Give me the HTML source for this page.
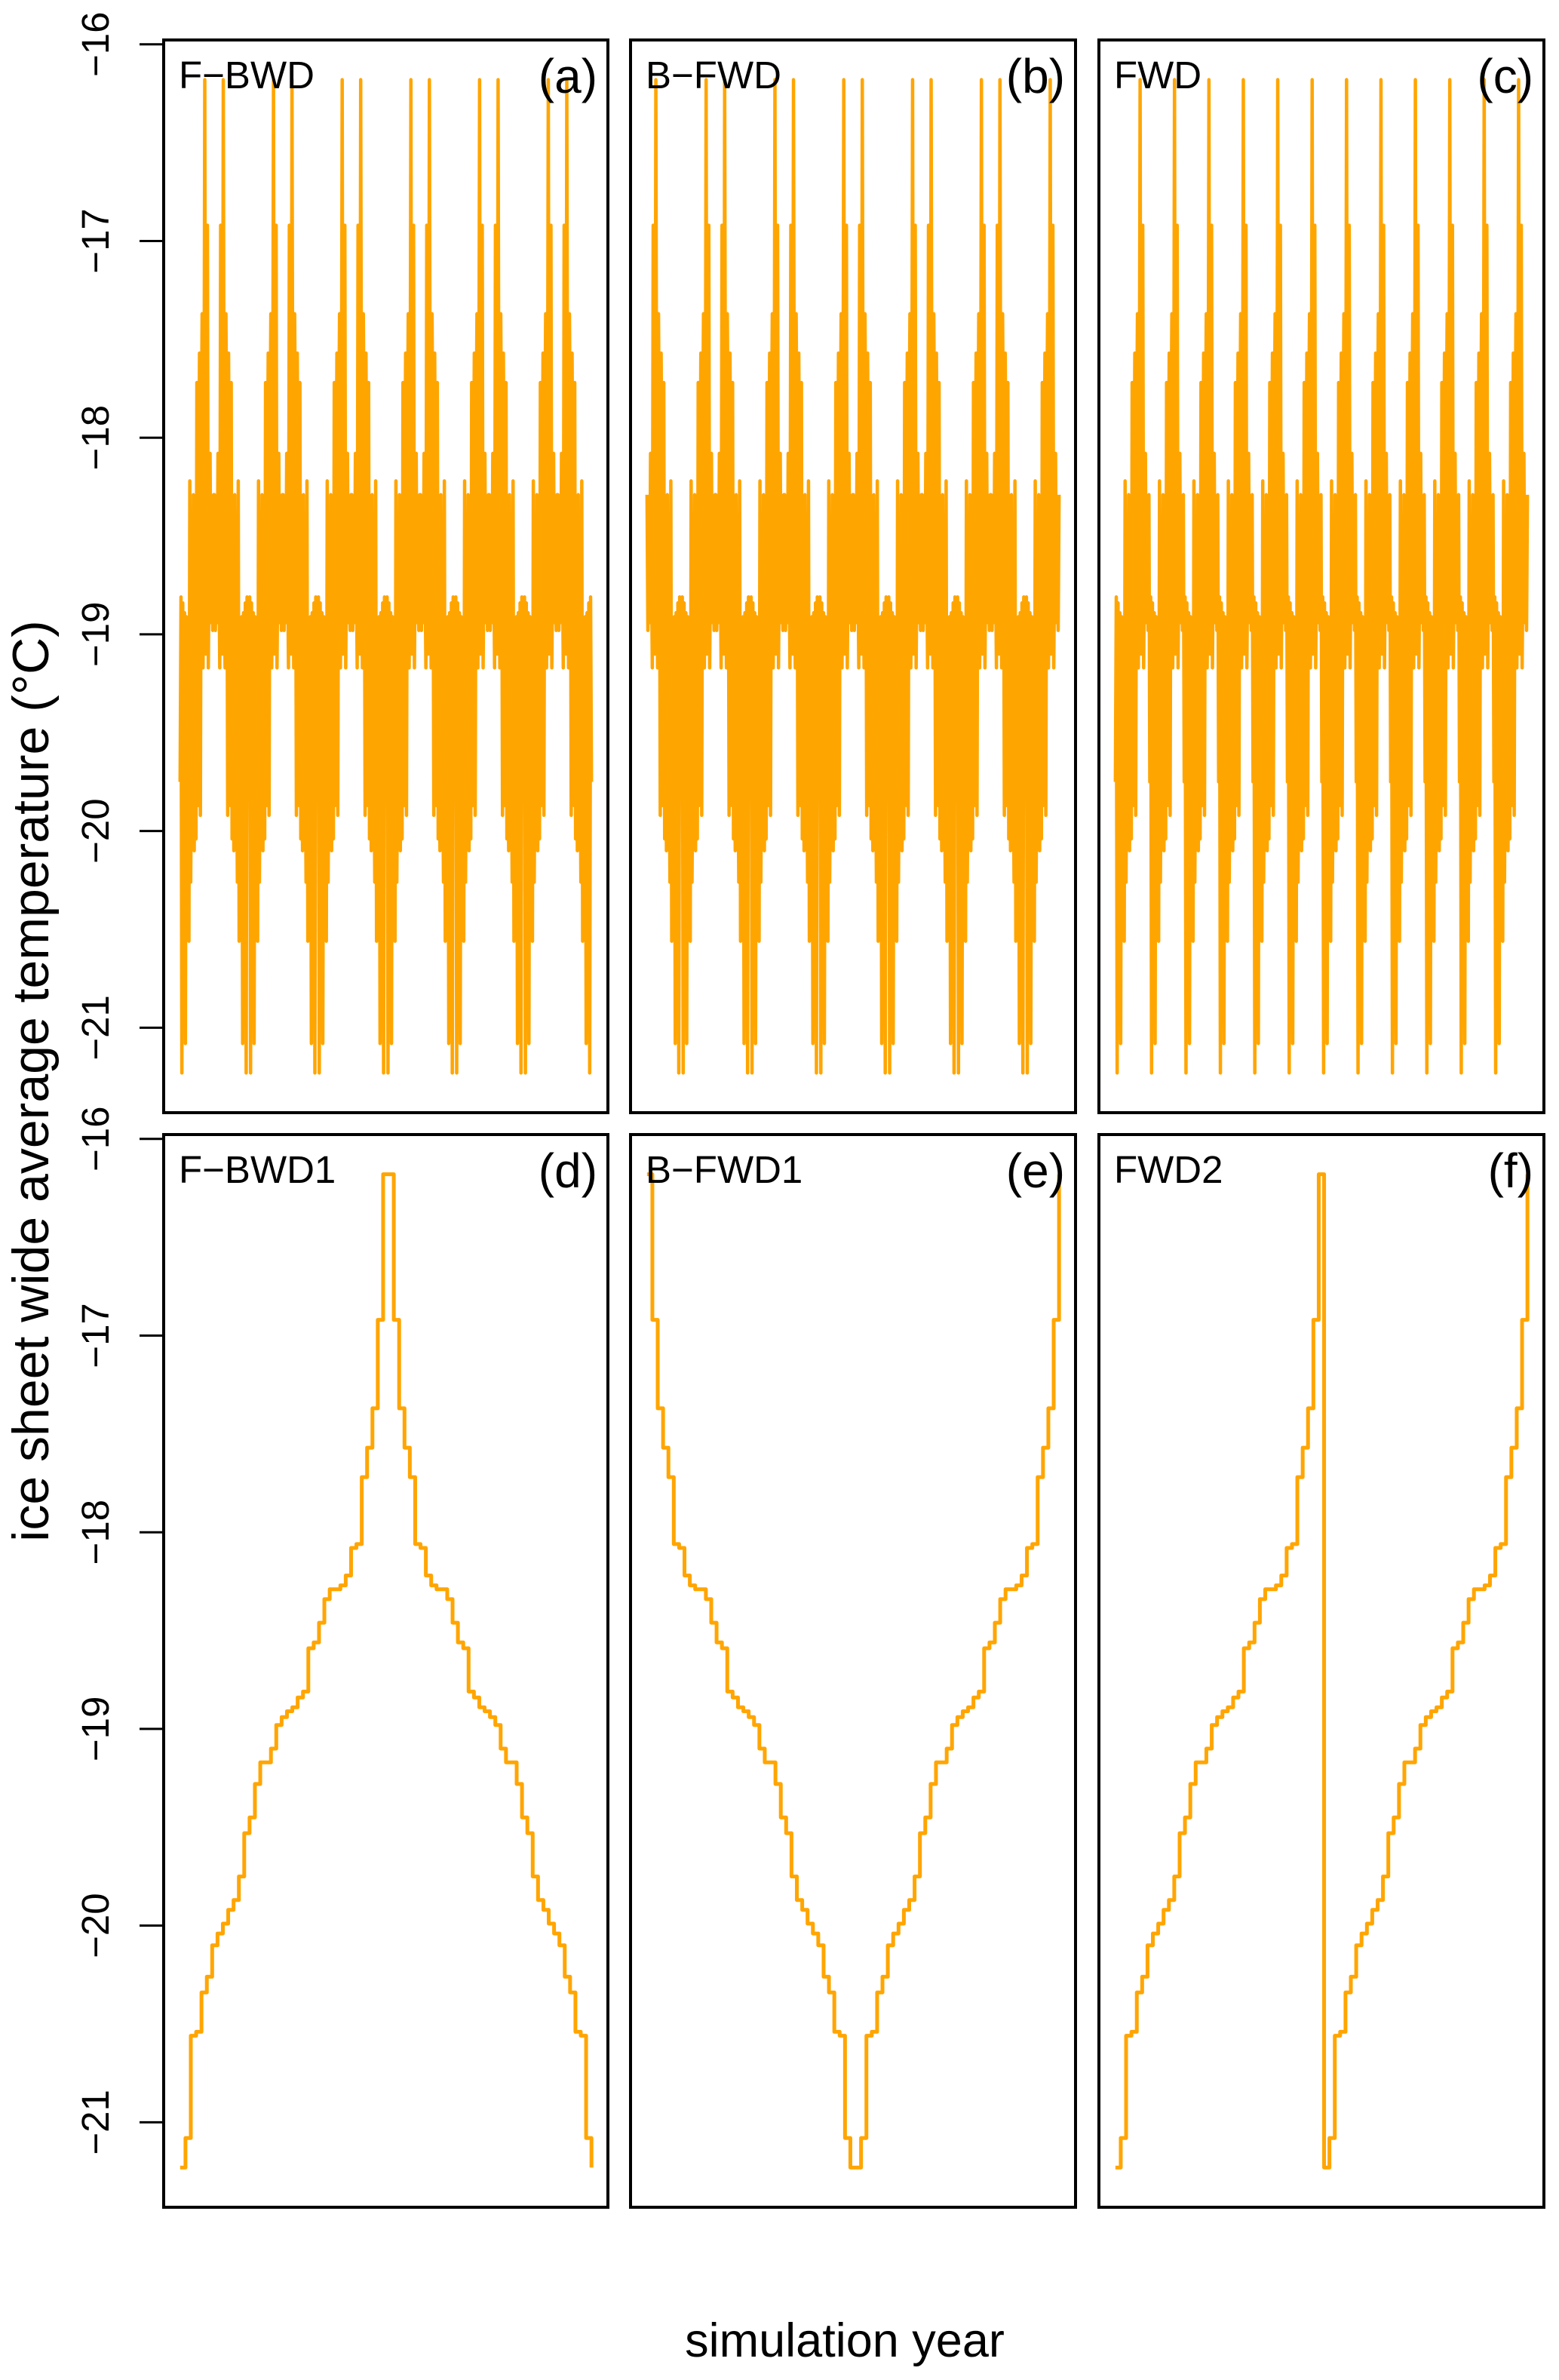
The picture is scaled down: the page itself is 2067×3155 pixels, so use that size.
<!DOCTYPE html>
<html><head><meta charset="utf-8"><style>
html,body{margin:0;padding:0;background:#fff;}
svg{display:block;font-family:"Liberation Sans",Arial,sans-serif;}
</style></head><body>
<svg id="chart" width="2067" height="3155" viewBox="0 0 2067 3155" xmlns="http://www.w3.org/2000/svg">
<rect width="2067" height="3155" fill="#fff"/>
<text x="0" y="0" transform="translate(64,1433) rotate(-90)" font-size="68" text-anchor="middle">ice sheet wide average temperature (°C)</text>
<text x="1120" y="3124" font-size="63" text-anchor="middle">simulation year</text>
<g id="panels"></g>
</svg>
<script>
// chronological annual temperature series (one pass, °C)
const chron = [-19.75,-18.81,-21.23,-18.84,-20.54,-18.89,-21.08,-18.91,-20.34,-19.45,-20.56,-18.22,-20.26,-19.53,-19.99,-18.29,-20.10,-19.28,-20.04,-17.72,-19.87,-18.46,-17.57,-19.92,-18.06,-17.37,-19.17,-18.34,-16.18,-19.10,-18.27,-16.92,-19.17,-18.59,-18.08,-18.94,-18.56,-18.98,-18.29];
const yTicks = [-16,-17,-18,-19,-20,-21];
const panelNames = ["F\u2212BWD","B\u2212FWD","FWD","F\u2212BWD1","B\u2212FWD1","FWD2"];
const panelTags = ["(a)","(b)","(c)","(d)","(e)","(f)"];
const repeats = [6,6,12,1,1,2];

const NS="http://www.w3.org/2000/svg";
const root=document.getElementById('panels');
function mk(tag,attrs){const e=document.createElementNS(NS,tag);for(const k in attrs)e.setAttribute(k,attrs[k]);return e;}

const fwd=chron.slice(), bwd=chron.slice().reverse();
const asc=chron.slice().sort((a,b)=>a-b), desc=asc.slice().reverse();
function rep(parts,n){let o=[];for(let i=0;i<n;i++)parts.forEach(p=>o=o.concat(p));return o;}
const series=[
  rep([fwd,bwd],repeats[0]),
  rep([bwd,fwd],repeats[1]),
  rep([fwd],repeats[2]),
  rep([asc,desc],repeats[3]),
  rep([desc,asc],repeats[4]),
  rep([asc],repeats[5])
];

const colX=[[217,806],[836,1426],[1457,2047]];
const rowY=[[53,1475],[1504,2926]];
let allMin=Math.min(...chron), allMax=Math.max(...chron);
const pad=(allMax-allMin)*0.04;
const yMin=allMin-pad, yMax=allMax+pad;

for(let p=0;p<6;p++){
  const c=p%3, r=Math.floor(p/3);
  const [x0,x1]=colX[c], [y0,y1]=rowY[r];
  const data=series[p];
  const n=data.length;
  const xpad=(n-1)*0.04;
  const xs=i=>x0+(i+xpad)/((n-1)+2*xpad)*(x1-x0);
  const ys=v=>y0+(yMax-v)/(yMax-yMin)*(y1-y0);
  const g=mk('g',{});
  
  
  root.appendChild(g);
  let d='M'+xs(0).toFixed(2)+','+ys(data[0]).toFixed(2);
  for(let i=1;i<n;i++){
    if(r===0) d+='L'+xs(i).toFixed(2)+','+ys(data[i]).toFixed(2);
    else d+='H'+xs(i).toFixed(2)+'V'+ys(data[i]).toFixed(2);
  }
  const path=mk('path',{d:d,fill:'none',stroke:'#FFA500','stroke-width':r===0?4.5:5,'stroke-linejoin':'round'});
  
  
  g.appendChild(path);
  const box=mk('rect',{x:x0,y:y0,width:x1-x0,height:y1-y0,fill:'none',stroke:'#000','stroke-width':4});
  
  
  g.appendChild(box);
  const nm=mk('text',{x:x0+20,y:y0+64,'font-size':51});
  nm.textContent=panelNames[p];
  
  
  g.appendChild(nm);
  const tg=mk('text',{x:x1-14,y:y0+70,'font-size':64,'text-anchor':'end'});
  tg.textContent=panelTags[p];
  
  
  g.appendChild(tg);
  if(c===0){
    const ax=mk('g',{});
    
    
    g.appendChild(ax);
    ax.appendChild(mk('line',{x1:x0,x2:x0,y1:ys(yTicks[0]),y2:ys(yTicks[yTicks.length-1]),stroke:'#000','stroke-width':4}));
    yTicks.forEach(t=>{
      const ty=ys(t);
      const tl=mk('line',{x1:x0-32,x2:x0,y1:ty,y2:ty,stroke:'#000','stroke-width':3});
      
      
      ax.appendChild(tl);
      const lb=mk('text',{x:0,y:0,transform:'translate(144,'+ty+') rotate(-90)','font-size':51,'text-anchor':'middle'});
      lb.textContent=String(t).replace('-','\u2212');
      
      
      ax.appendChild(lb);
    });
  }
}
</script>
</body></html>
